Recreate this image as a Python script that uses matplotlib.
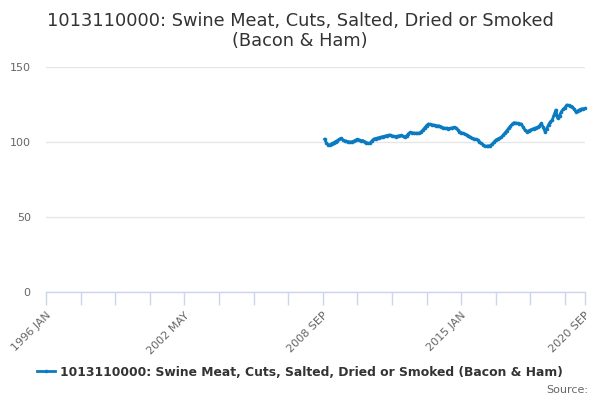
import matplotlib
matplotlib.use("Agg")
import matplotlib.pyplot as plt
from matplotlib.lines import Line2D

plt.rcParams['font.family'] = ['DejaVu Sans']

title = "1013110000: Swine Meat, Cuts, Salted, Dried or Smoked\n(Bacon & Ham)"
series_name = "1013110000: Swine Meat, Cuts, Salted, Dried or Smoked (Bacon & Ham)"

# month index: 0 = 1996 JAN
start_month = 153  # 2008 OCT
values = [
    101.8, 99.5, 98.0,
    98.2, 99.0, 99.6, 100.3, 101.0, 101.8, 102.4, 101.5, 100.7, 100.5, 100.3, 100.0,
    100.2, 100.6, 101.2, 101.8, 101.4, 101.0, 100.9, 100.2, 99.6, 99.1, 99.3, 100.8,
    102.0, 102.3, 102.6, 103.0, 103.3, 103.6, 103.9, 104.2, 104.4, 104.7, 104.2, 103.8,
    103.6, 103.9, 104.2, 104.4, 103.8, 103.1, 104.0, 105.5, 106.4, 106.2, 106.0, 105.9,
    105.8, 106.0, 106.8, 108.0, 109.5, 111.0, 112.0, 111.8, 111.5, 111.3, 111.0, 110.8,
    110.7, 110.2, 109.6, 109.1, 109.3, 109.0, 109.1, 109.4, 109.8, 109.5, 108.3, 106.9,
    106.3, 105.8, 105.2, 104.7, 104.0, 103.4, 102.4, 102.1, 101.8, 101.5, 100.2, 99.1,
    98.3, 97.3, 97.2, 97.4, 97.6, 98.6, 100.0, 101.3, 101.9, 102.5, 103.1, 104.5,
    106.0, 107.5, 109.1, 110.5, 111.8, 112.9, 112.7, 112.4, 112.2, 112.0, 110.0, 108.0,
    106.9, 107.5, 108.0, 108.4, 109.0, 109.5, 109.8, 110.8, 112.4, 110.0, 107.0, 109.0,
    111.5, 113.5, 114.7, 118.0, 121.3, 115.8, 117.5, 120.2, 121.8, 123.0, 124.7, 124.4,
    124.0, 123.6, 122.0, 120.2, 120.8, 121.5, 122.0, 122.2, 122.4,
]
x_labels = ["1996 JAN", "2002 MAY", "2008 SEP", "2015 JAN", "2020 SEP"]
label_months = [0, 76, 152, 228, 296]
last_month = 296
y_ticks = [0, 50, 100, 150]

line_color = "#0a7bc1"
months = list(range(start_month, start_month + len(values)))

fig = plt.figure(figsize=(6, 4), dpi=100)
ax = fig.add_axes([46/600, 1 - 292/400, (585-46)/600, (292-67)/400])

ax.plot(months, values, color=line_color, lw=2, marker='o', ms=2.6,
        markeredgewidth=0, zorder=3, clip_on=False)

ax.set_xlim(0, last_month)
ax.set_ylim(0, 150)
ax.set_yticks(y_ticks)
ax.set_yticklabels([str(v) for v in y_ticks])
ax.yaxis.grid(True, color="#e6e6e6", lw=1)
ax.set_axisbelow(True)

minor = list(range(0, last_month, 19)) + [last_month]
ax.set_xticks(minor, minor=True)
ax.set_xticks(label_months)
ax.set_xticklabels(x_labels, rotation=45, ha='right', rotation_mode='anchor')
ax.tick_params(axis='x', which='both', direction='out', length=9, color="#ccd6eb",
               width=1, labelsize=8, labelcolor="#666666", pad=4)
ax.tick_params(axis='y', length=0, labelsize=8, labelcolor="#666666", pad=11)

for s in ['top', 'right', 'left']:
    ax.spines[s].set_visible(False)
ax.spines['bottom'].set_color("#ccd6eb")
ax.spines['bottom'].set_linewidth(1)

fig.text(0.5, 1 - 31/400, title, ha='center', va='center', fontsize=12.8,
         color="#333333", linespacing=1.2)

handle = Line2D([], [], color=line_color, lw=2, marker='o', ms=2.6, markeredgewidth=0)
fig.legend([handle], [series_name], loc='center', bbox_to_anchor=(0.5, 1 - 372/400),
           frameon=False, prop={'size': 8.9, 'weight': 'bold'}, labelcolor="#333333",
           handlelength=1.4, handletextpad=0.4)

fig.text(588/600, 1 - 390/400, "Source:", ha='right', va='center', fontsize=8,
         color="#666666")

fig.savefig("out.png", dpi=100)
